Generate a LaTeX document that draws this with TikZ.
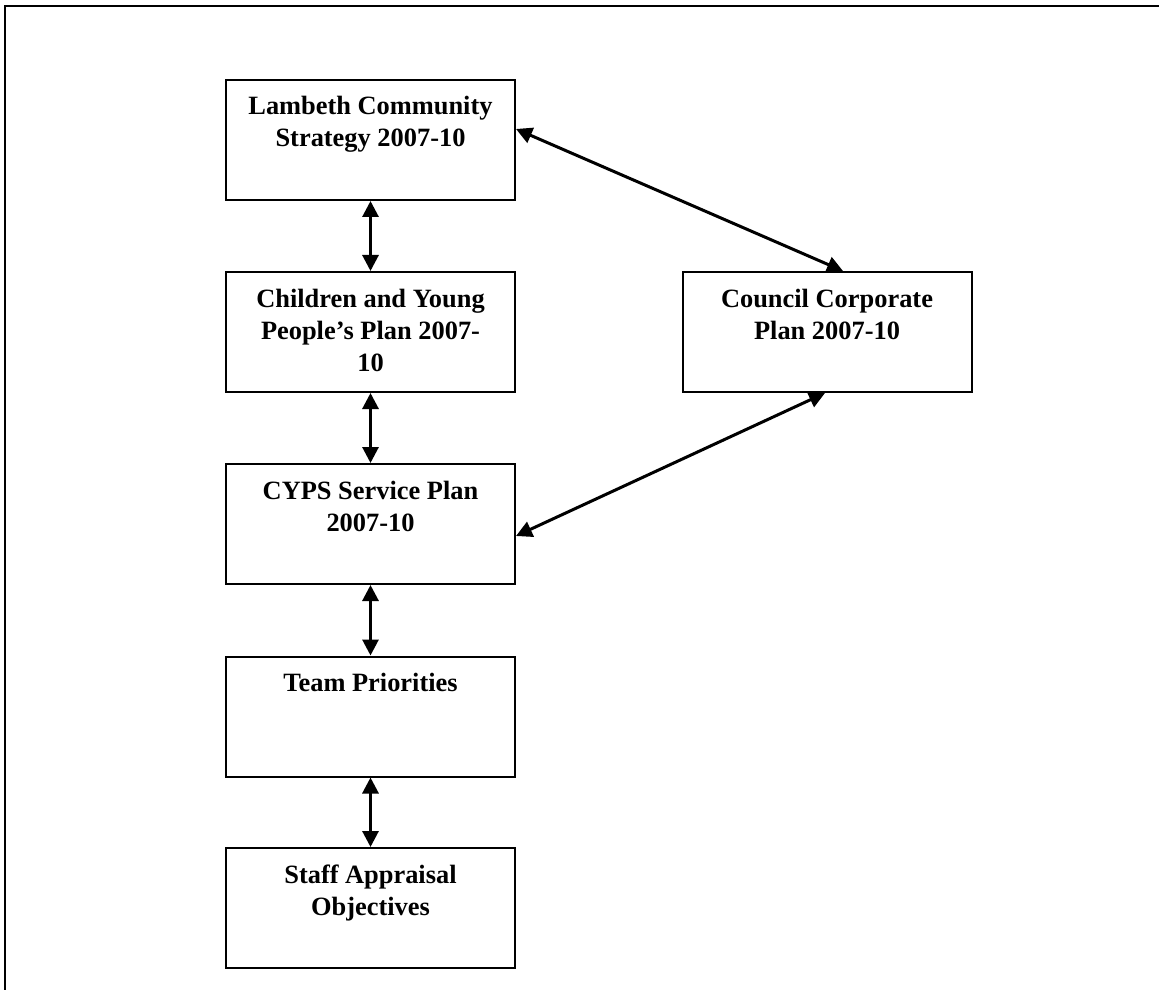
\documentclass[tikz,border=0pt]{standalone}
\usepackage{fontspec}
\setmainfont{Liberation Serif}
\usetikzlibrary{arrows.meta}
\tikzset{
  planbox/.style={draw=black, line width=1pt, inner sep=0pt, minimum width=144.5pt, minimum height=60pt, fill=white},
  link/.style={line width=1.5pt, {Triangle[length=8pt,width=8pt]}-{Triangle[length=8pt,width=8pt]}},
  frame/.style={line width=1.4pt}
}
\newcommand{\boxtext}[1]{\parbox[c][60pt][t]{142pt}{\centering\fontsize{13.2}{16}\selectfont\bfseries\rule{0pt}{17.5pt}#1}}
\begin{document}
\begin{tikzpicture}[x=0.5pt,y=-0.5pt]
\useasboundingbox (0,0) rectangle (1159,989);
\begin{scope}
\clip (0,0) rectangle (1159,989);
\coordinate (fbl) at (5,1000);
\coordinate (ftl) at (5,6);
\coordinate (ftr) at (1170,6);
\draw[frame] (fbl) -- (ftl) -- (ftr);
\end{scope}

\node[planbox] (lam) at (370.5,140) {\boxtext{Lambeth Community\\Strategy 2007-10}};
\node[planbox] (chi) at (370.5,332) {\boxtext{Children and Young\\People’s Plan 2007-\\10}};
\node[planbox] (cyps) at (370.5,524) {\boxtext{CYPS Service Plan\\2007-10}};
\node[planbox] (team) at (370.5,716.5) {\boxtext{Team Priorities}};
\node[planbox] (staff) at (370.5,908) {\boxtext{Staff Appraisal\\Objectives}};
\node[planbox] (council) at (827,332) {\boxtext{Council Corporate\\Plan 2007-10}};

\draw[link] (lam.south) -- (chi.north);
\draw[link] (chi.south) -- (cyps.north);
\draw[link] (cyps.south) -- (team.north);
\draw[link] (team.south) -- (staff.north);
\draw[link] ([yshift=5.5pt]lam.east) -- ([xshift=8pt]council.north);
\draw[link] ([xshift=-1pt]council.south) -- ([yshift=-6pt]cyps.east);
\end{tikzpicture}
\end{document}
